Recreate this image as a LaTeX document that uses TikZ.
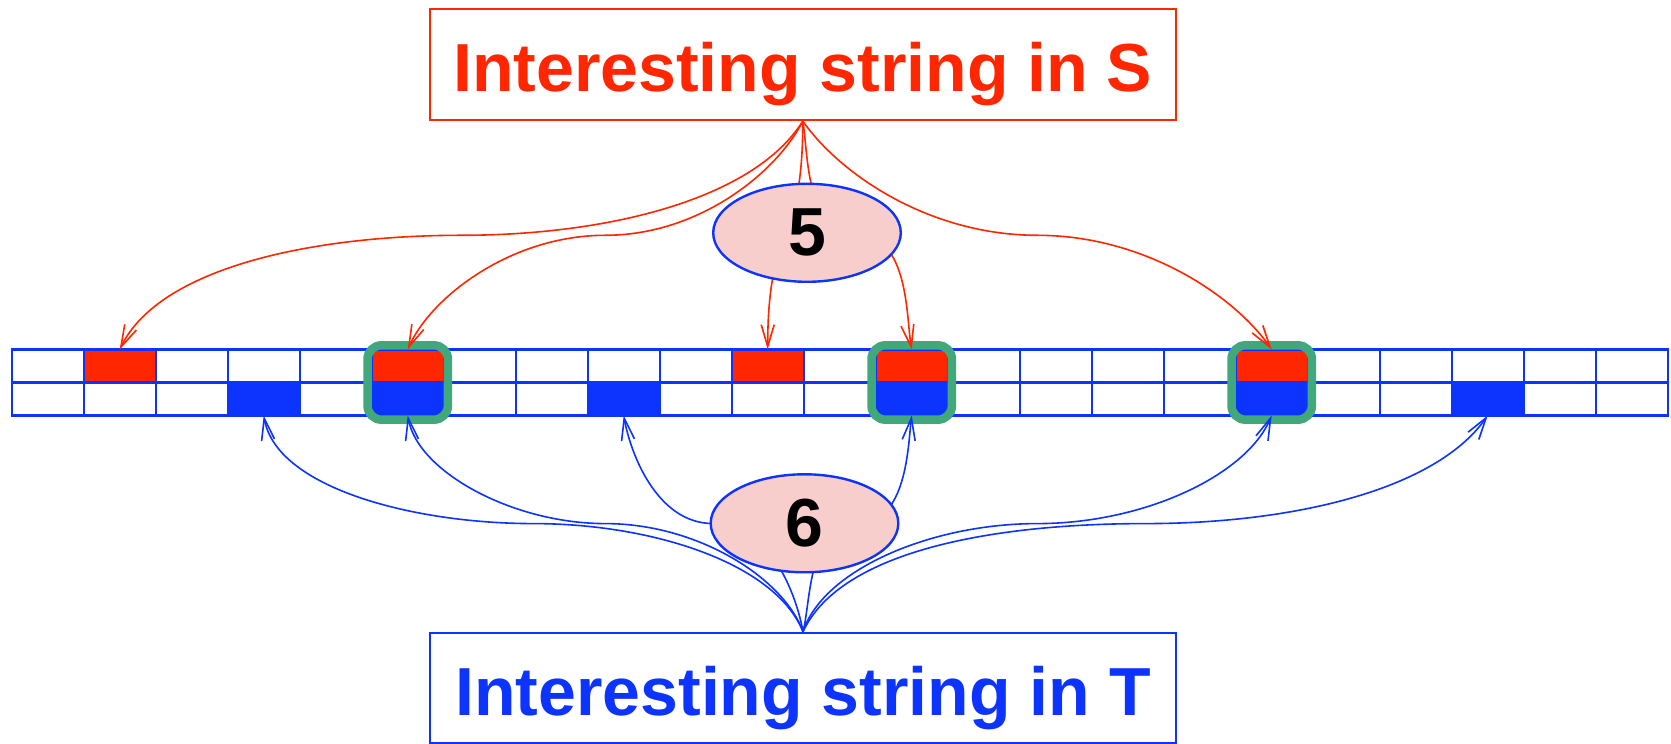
\documentclass[tikz,border=0pt]{standalone}
\usepackage{fontspec}
\setmainfont{Liberation Sans}
\usetikzlibrary{arrows.meta,positioning,shapes.geometric,fit,calc}
\definecolor{strred}{HTML}{FF2600}
\definecolor{strblue}{HTML}{0D33FF}
\definecolor{hitgreen}{HTML}{40A87A}
\definecolor{countpink}{HTML}{F8CECC}

\begin{document}
\begin{tikzpicture}[x=0.5pt, y=0.5pt,
  every node/.style={font=\fontsize{34}{40}\selectfont\bfseries},
  strbox/.style={draw, line width=1.1pt, minimum width=373pt, minimum height=55.4pt,
                 inner sep=0pt, text height=27pt, text depth=0pt},
  cell/.style={draw=strblue, line width=1.1pt, minimum width=36pt,
               minimum height=16.5pt, inner sep=0pt, outer sep=0pt},
  count/.style={ellipse, draw=strblue, line width=1.2pt, fill=countpink,
                minimum width=93.8pt, minimum height=49pt, inner sep=0pt},
  hit/.style={draw=hitgreen, line width=4.25pt, rounded corners=7pt, inner sep=2.1pt},
  sarrow/.style={draw=strred, line width=0.8pt, -{Straight Barb[length=11pt,width=6.5pt]}},
  tarrow/.style={draw=strblue, line width=0.8pt, -{Straight Barb[length=11pt,width=6.5pt]}},
  outhalf/.style={out looseness=0.65, in looseness=1.05},
  inhalf/.style={out looseness=1.05, in looseness=0.65}
]
\useasboundingbox (0,0) rectangle (1671,744);
% filled slots of the two rows
\foreach \i in {1,5,10,12,17}
  \fill[strred] ({11.7+72*\i},361.5) rectangle +(72,33);
\foreach \i in {3,5,8,12,17,20}
  \fill[strblue] ({11.7+72*\i},328.5) rectangle +(72,33);
% rows of slots
\foreach \i in {0,...,22} {
  \node[cell] (top\i) at ({47.7+72*\i},378) {};
  \node[cell] (bot\i) at ({47.7+72*\i},345) {};
}
% slots hit from both sides
\foreach \i in {5,12,17}
  \node[hit, fit=(top\i)(bot\i)] (hit\i) {};
\node[strbox, draw=strred, text=strred] (S) at (802.8,679.4) {Interesting string in S};
\node[strbox, draw=strblue, text=strblue] (T) at (803,55.8) {Interesting string in T};
% occurrences in S
\foreach \i/\a/\b in {1/-122/64, 5/-117/66}
  \draw[sarrow] (S.south) to[out=\a, in=0, outhalf] ($(S.south)!.5!(top\i.north)$)
    to[out=180, in=\b, inhalf] (top\i.north);
\foreach \i/\a/\b in {12/-80/100, 17/-55/125}
  \draw[sarrow] (S.south) to[out=\a, in=180, outhalf] ($(S.south)!.5!(top\i.north)$)
    to[out=0, in=\b, inhalf] (top\i.north);
\draw[sarrow] (S.south) to[out=-90, in=90, distance=65pt] (top10.north);
% occurrences in T
\foreach \i/\a/\b in {3/112/-80, 5/110/-80, 8/100/-80}
  \draw[tarrow] (T.north) to[out=\a, in=0, outhalf] ($(T.north)!.5!(bot\i.south)$)
    to[out=180, in=\b, inhalf] (bot\i.south);
\foreach \i/\a/\b in {12/75/-97, 17/72/-113, 20/65/-125}
  \draw[tarrow] (T.north) to[out=\a, in=180, outhalf] ($(T.north)!.5!(bot\i.south)$)
    to[out=0, in=\b, inhalf] (bot\i.south);
\node[count] (nS) at (807,511.2) {5};
\node[count] (nT) at (804.5,220.7) {6};
\end{tikzpicture}
\end{document}
